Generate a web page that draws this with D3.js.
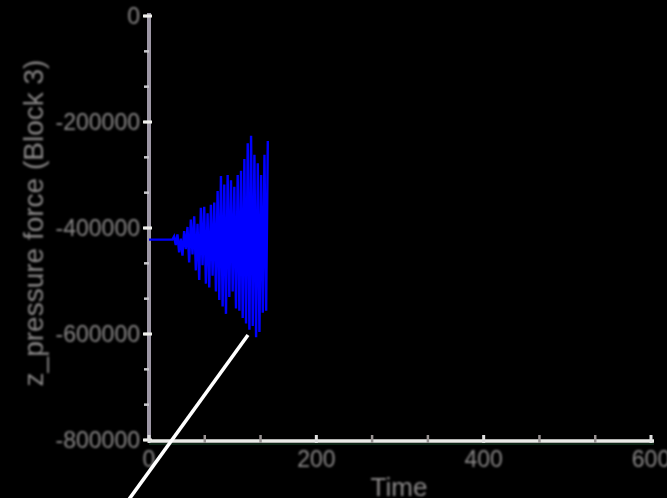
<!DOCTYPE html>
<html>
<head>
<meta charset="utf-8">
<script src="https://cdn.jsdelivr.net/npm/d3@7"></script>
<style>
  html, body { margin: 0; padding: 0; background: #000; overflow: hidden; }
</style>
</head>
<body>
<div id="chart"></div>
<script>
// tick values and labels
const timeTicks = [0, 200, 400, 600];
const timeTickLabels = ['0', '200', '400', '600'];
const forceTicks = [0, -200000, -400000, -600000, -800000];
const forceTickLabels = ['0', '-200000', '-400000', '-600000', '-800000'];

// z_pressure force series
const seriesTime = [0, 28, 30, 32, 34, 36, 38, 40, 42, 44, 46, 48, 50, 52, 54, 56,
  58, 60, 62, 64, 66, 68, 70, 72, 74, 76, 78, 80, 82, 84, 86, 88, 90, 92, 94, 96,
  98, 100, 102, 104, 106, 108, 110, 112, 114, 116, 118, 120, 122, 124, 126, 128,
  130, 132, 134, 136, 138, 140, 142];
const seriesForce = [-422000, -422000, -416000, -432000, -412000, -446000, -420000,
  -452000, -406000, -440000, -398000, -465000, -384000, -450000, -378000, -480000,
  -392000, -498000, -362000, -470000, -360000, -505000, -372000, -512000, -356000,
  -490000, -352000, -520000, -330000, -536000, -302000, -548000, -318000, -562000,
  -300000, -530000, -310000, -520000, -322000, -552000, -300000, -556000, -292000,
  -570000, -270000, -580000, -240000, -592000, -226000, -585000, -262000, -606000,
  -278000, -596000, -300000, -560000, -262000, -556000, -236000];

// white pointer line
const pointerTime = [-40, 118.3];
const pointerForce = [-947000, -602000];

const width = 667;
const height = 498;
const margin = {top: 16, right: 16, bottom: 58, left: 149};

const svg = d3.select('#chart').append('svg')
  .attr('width', width)
  .attr('height', height)
  .style('background', '#000');

const defs = svg.append('defs');
defs.append('filter').attr('id', 'soft')
  .append('feGaussianBlur').attr('stdDeviation', 0.6);
defs.append('filter').attr('id', 'softText')
  .attr('x', '-10%').attr('y', '-30%').attr('width', '120%').attr('height', '160%')
  .append('feGaussianBlur').attr('stdDeviation', 0.9);

const x = d3.scaleLinear()
  .domain([0, 600])
  .range([margin.left, width - margin.right]);

const y = d3.scaleLinear()
  .domain([-800000, 0])
  .range([height - margin.bottom, margin.top]);

// minor ticks, three steps per major step
const xMinor = d3.range(0, 601, 200 / 3);
const yMinor = d3.range(-800000, 1, 200000 / 3);

const axes = svg.append('g').attr('filter', 'url(#soft)');

// y axis line
axes.append('line')
  .attr('x1', x(0)).attr('x2', x(0))
  .attr('y1', y(0) - 3).attr('y2', y(-800000))
  .attr('stroke', '#9d97a5')
  .attr('stroke-width', 4);

// y minor ticks
axes.selectAll('.yminor')
  .data(yMinor)
  .enter().append('line')
  .attr('x1', x(0) - 5).attr('x2', x(0))
  .attr('y1', (d) => y(d)).attr('y2', (d) => y(d))
  .attr('stroke', '#c8c8cc')
  .attr('stroke-width', 2.5);

// y major ticks
axes.selectAll('.ymajor')
  .data(forceTicks)
  .enter().append('line')
  .attr('x1', x(0) - 6).attr('x2', x(0) + 3)
  .attr('y1', (d) => y(d)).attr('y2', (d) => y(d))
  .attr('stroke', '#f0f0ec')
  .attr('stroke-width', 3);

// x axis line
axes.append('line')
  .attr('x1', x(0)).attr('x2', x(600) + 3)
  .attr('y1', y(-800000) + 1).attr('y2', y(-800000) + 1)
  .attr('stroke', '#ebebe8')
  .attr('stroke-width', 3.5);

axes.append('line')
  .attr('x1', x(0)).attr('x2', x(600) + 3)
  .attr('y1', y(-800000) + 4).attr('y2', y(-800000) + 4)
  .attr('stroke', '#0b2618')
  .attr('stroke-width', 2);

// x ticks
axes.selectAll('.xminor')
  .data(xMinor)
  .enter().append('line')
  .attr('x1', (d) => x(d)).attr('x2', (d) => x(d))
  .attr('y1', y(-800000) - 5).attr('y2', y(-800000) + 3)
  .attr('stroke', (d, i) => i % 3 === 0 ? '#e0e0e0' : '#9a9494')
  .attr('stroke-width', (d, i) => i % 3 === 0 ? 3 : 2.5);

// tick labels
const labels = svg.append('g')
  .attr('filter', 'url(#softText)')
  .style('font-family', 'Liberation Sans, Arial, sans-serif')
  .style('fill', '#8a8888');

labels.selectAll('.ylab')
  .data(forceTicks)
  .enter().append('text')
  .attr('x', x(0) - 9)
  .attr('y', (d) => y(d))
  .attr('dy', '0.36em')
  .attr('text-anchor', 'end')
  .style('font-size', '23px')
  .text((d, i) => forceTickLabels[i]);

labels.selectAll('.xlab')
  .data(timeTicks)
  .enter().append('text')
  .attr('x', (d) => x(d))
  .attr('y', y(-800000) + 27)
  .attr('text-anchor', 'middle')
  .style('font-size', '23px')
  .text((d, i) => timeTickLabels[i]);

labels.append('text')
  .attr('x', 399)
  .attr('y', 496)
  .attr('text-anchor', 'middle')
  .style('font-size', '26px')
  .text('Time');

labels.append('text')
  .attr('transform', 'rotate(-90)')
  .attr('x', -223)
  .attr('y', 43)
  .attr('text-anchor', 'middle')
  .style('font-size', '28px')
  .text('z_pressure force (Block 3)');

// data line
const line = d3.line()
  .x((d) => x(d[0]))
  .y((d) => y(d[1]));

svg.append('path')
  .datum(seriesTime.map((t, i) => [t, seriesForce[i]]))
  .attr('fill', 'none')
  .attr('stroke', '#0606ff')
  .attr('stroke-width', 2.4)
  .attr('stroke-linejoin', 'miter')
  .attr('filter', 'url(#soft)')
  .attr('d', line);

// pointer line
svg.append('path')
  .datum(pointerTime.map((t, i) => [t, pointerForce[i]]))
  .attr('fill', 'none')
  .attr('stroke', '#ffffff')
  .attr('stroke-width', 3.6)
  .attr('d', line);
</script>
</body>
</html>
